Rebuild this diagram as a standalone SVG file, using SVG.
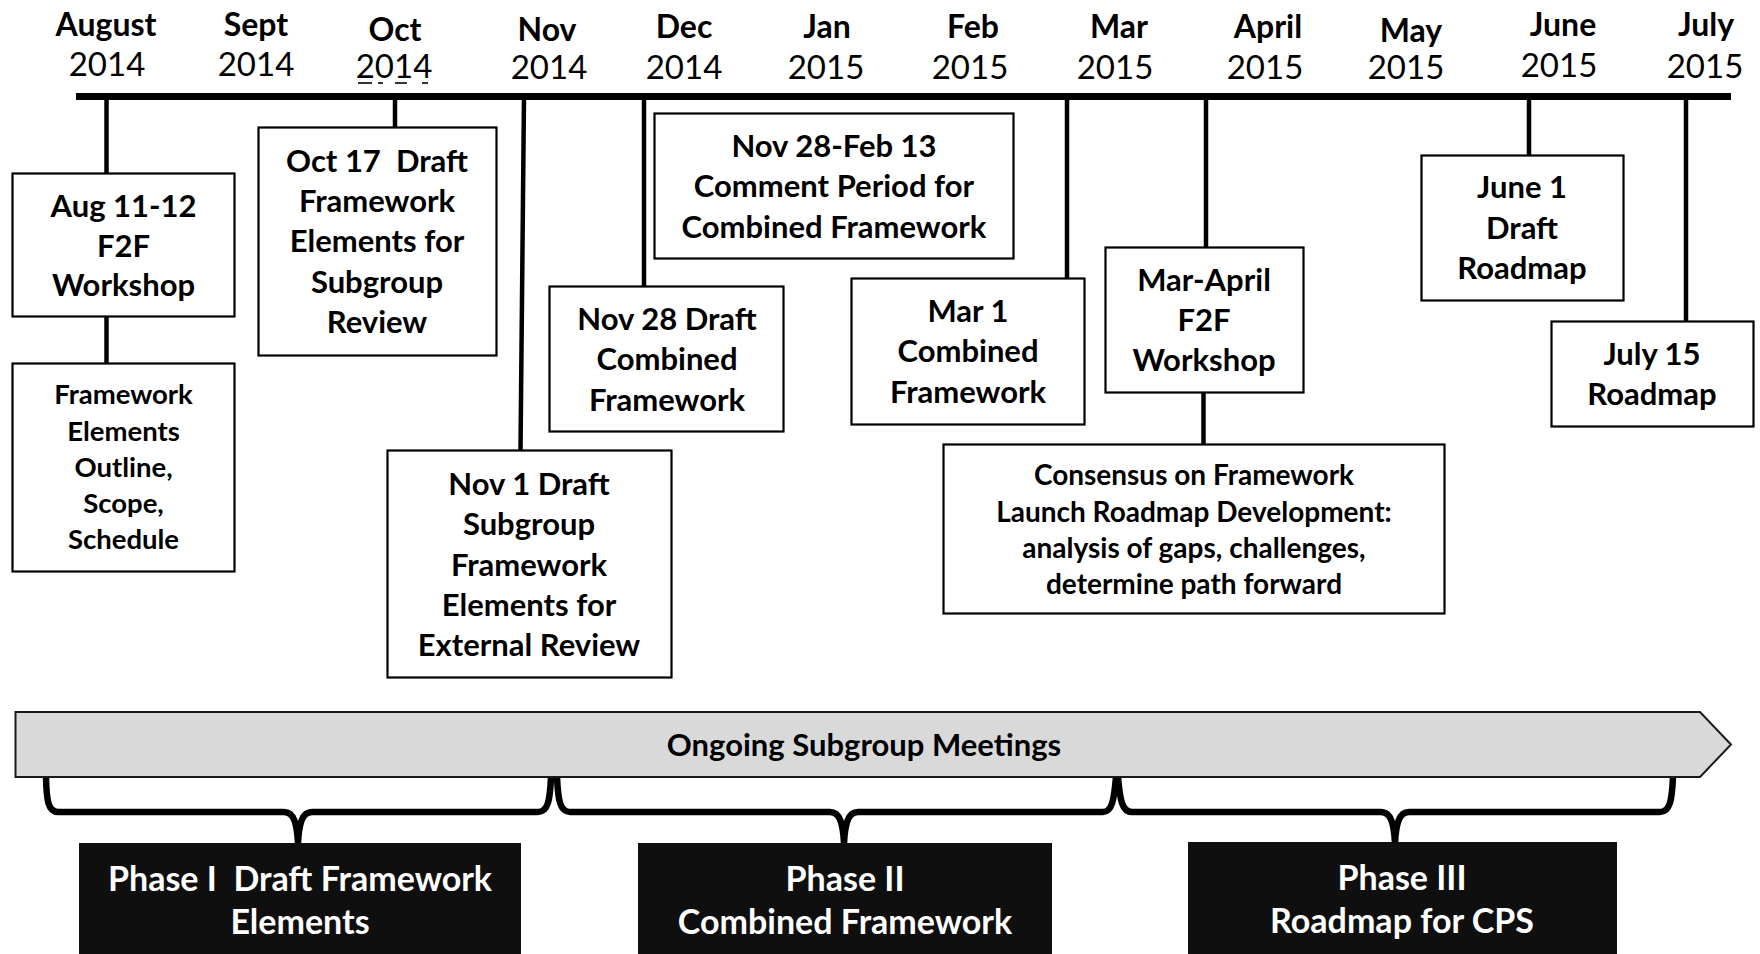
<svg xmlns="http://www.w3.org/2000/svg" width="1760" height="954" viewBox="0 0 1760 954">
  <style>
    .mon { font-family: Lato, "Open Sans", sans-serif; font-weight: 700; font-size: 32px; fill: #000; text-anchor: middle; }
    .yr { font-family: Lato, "Open Sans", sans-serif; font-weight: 400; font-size: 33px; fill: #000; text-anchor: middle; }
    .box { fill: #fff; stroke: #000; stroke-width: 2.2; }
    .t { font-family: Lato, "Open Sans", sans-serif; font-weight: 700; font-size: 31px; fill: #000; text-anchor: middle; }
    .ts { font-family: Lato, "Open Sans", sans-serif; font-weight: 700; font-size: 27.5px; fill: #000; text-anchor: middle; }
    .tc { font-family: Lato, "Open Sans", sans-serif; font-weight: 700; font-size: 28px; fill: #000; text-anchor: middle; }
    .tick { stroke: #000; stroke-width: 4.5; fill: none; }
    .brace { stroke: #000; stroke-width: 6.5; fill: none; stroke-linejoin: round; }
    .phase { fill: #0f0f0f; }
    .pt { font-family: Lato, "Open Sans", sans-serif; font-weight: 700; font-size: 34px; fill: #fff; text-anchor: middle; }
  </style>

  <rect width="1760" height="954" fill="#fff"/>

  <!-- month / year scale -->
  <g id="months">
    <text class="mon" x="106" y="36">August</text><text class="yr" x="107" y="76">2014</text>
    <text class="mon" x="256" y="36">Sept</text><text class="yr" x="256" y="76">2014</text>
    <text class="mon" x="395" y="41">Oct</text><text class="yr" x="394" y="78">2014</text>
    <text class="mon" x="547" y="41">Nov</text><text class="yr" x="549" y="79">2014</text>
    <text class="mon" x="684" y="38">Dec</text><text class="yr" x="684" y="79">2014</text>
    <text class="mon" x="827" y="38">Jan</text><text class="yr" x="826" y="79">2015</text>
    <text class="mon" x="973" y="38">Feb</text><text class="yr" x="970" y="79">2015</text>
    <text class="mon" x="1119" y="38">Mar</text><text class="yr" x="1115" y="79">2015</text>
    <text class="mon" x="1268" y="38">April</text><text class="yr" x="1265" y="79">2015</text>
    <text class="mon" x="1411" y="42">May</text><text class="yr" x="1406" y="79">2015</text>
    <text class="mon" x="1563" y="36">June</text><text class="yr" x="1559" y="77">2015</text>
    <text class="mon" x="1706" y="36">July</text><text class="yr" x="1705" y="78">2015</text>
    <!-- dotted underline marks beneath Oct 2014 -->
    <g stroke="#000" stroke-width="1.6">
      <line x1="358" y1="83" x2="372" y2="83"/>
      <line x1="378" y1="83" x2="383" y2="83"/>
      <line x1="395" y1="83" x2="407" y2="83"/>
      <line x1="422" y1="83" x2="428" y2="83"/>
    </g>
  </g>

  <!-- timeline axis and drop lines -->
  <g id="connectors">
    <line x1="76" y1="96.5" x2="1731" y2="96.5" stroke="#000" stroke-width="7"/>
    <line class="tick" x1="106.5" y1="96" x2="106.5" y2="174"/>
    <line class="tick" x1="106.5" y1="317" x2="106.5" y2="364"/>
    <line class="tick" x1="395" y1="96" x2="395" y2="127"/>
    <line class="tick" x1="524" y1="96" x2="520.5" y2="451"/>
    <line class="tick" x1="644" y1="96" x2="644" y2="287"/>
    <line class="tick" x1="1067" y1="96" x2="1067" y2="279"/>
    <line class="tick" x1="1206" y1="96" x2="1206" y2="248"/>
    <line class="tick" x1="1203.5" y1="393" x2="1203.5" y2="445"/>
    <line class="tick" x1="1529" y1="96" x2="1529" y2="155"/>
    <line class="tick" x1="1686" y1="96" x2="1686" y2="321"/>
    <!-- phase braces -->
    <path class="brace" d="M46,777 C46.5,800 48,812 58,812 L284,812 C294,812 297,824 298,843 C299,824 302,812 312,812 L538,812 C548,812 550,800 551,777"/>
    <path class="brace" d="M557,777 C558,800 560,812 570,812 L830,812 C840,812 843,824 844,843 C845,824 848,812 858,812 L1103,812 C1112,812 1114,800 1116,777"/>
    <path class="brace" d="M1118,777 C1120,800 1122,812 1132,812 L1381,812 C1391,812 1394,824 1395,843 C1396,824 1399,812 1409,812 L1660,812 C1670,812 1672,800 1673,777"/>
  </g>

  <g id="aug-workshop">
    <rect class="box" x="12.5" y="173.5" width="222" height="143"/>
    <text class="t" x="123.5" y="217">Aug 11-12</text>
    <text class="t" x="123.5" y="257">F2F</text>
    <text class="t" x="123.5" y="296">Workshop</text>
  </g>

  <g id="framework-outline">
    <rect class="box" x="12.5" y="363.5" width="222" height="208"/>
    <text class="ts" x="123.5" y="404">Framework</text>
    <text class="ts" x="123.5" y="441">Elements</text>
    <text class="ts" x="123.5" y="477">Outline,</text>
    <text class="ts" x="123.5" y="513">Scope,</text>
    <text class="ts" x="123.5" y="549">Schedule</text>
  </g>

  <g id="oct-17">
    <rect class="box" x="258.5" y="127.5" width="238" height="228"/>
    <text class="t" x="377" y="172" xml:space="preserve">Oct 17  Draft</text>
    <text class="t" x="377" y="212">Framework</text>
    <text class="t" x="377" y="252">Elements for</text>
    <text class="t" x="377" y="293">Subgroup</text>
    <text class="t" x="377" y="333">Review</text>
  </g>

  <g id="nov-1">
    <rect class="box" x="387.5" y="450.5" width="284" height="227"/>
    <text class="t" x="529" y="495">Nov 1 Draft</text>
    <text class="t" x="529" y="535">Subgroup</text>
    <text class="t" x="529" y="576">Framework</text>
    <text class="t" x="529" y="616">Elements for</text>
    <text class="t" x="529" y="656">External Review</text>
  </g>

  <g id="nov-28">
    <rect class="box" x="549.5" y="286.5" width="234" height="145"/>
    <text class="t" x="667" y="330">Nov 28 Draft</text>
    <text class="t" x="667" y="370">Combined</text>
    <text class="t" x="667" y="411">Framework</text>
  </g>

  <g id="comment-period">
    <rect class="box" x="654.5" y="113.5" width="359" height="145"/>
    <text class="t" x="834" y="157">Nov 28-Feb 13</text>
    <text class="t" x="834" y="197">Comment Period for</text>
    <text class="t" x="834" y="238">Combined Framework</text>
  </g>

  <g id="mar-1">
    <rect class="box" x="851.5" y="278.5" width="233" height="146"/>
    <text class="t" x="968" y="322">Mar 1</text>
    <text class="t" x="968" y="362">Combined</text>
    <text class="t" x="968" y="403">Framework</text>
  </g>

  <g id="mar-april">
    <rect class="box" x="1105.5" y="247.5" width="198" height="145"/>
    <text class="t" x="1204" y="291">Mar-April</text>
    <text class="t" x="1204" y="331">F2F</text>
    <text class="t" x="1204" y="371">Workshop</text>
  </g>

  <g id="consensus">
    <rect class="box" x="943.5" y="444.5" width="501" height="169"/>
    <text class="tc" x="1194" y="485">Consensus on Framework</text>
    <text class="tc" x="1194" y="522">Launch Roadmap Development:</text>
    <text class="tc" x="1194" y="558">analysis of gaps, challenges,</text>
    <text class="tc" x="1194" y="594">determine path forward</text>
  </g>

  <g id="june-1">
    <rect class="box" x="1421.5" y="155.5" width="202" height="145"/>
    <text class="t" x="1522" y="198">June 1</text>
    <text class="t" x="1522" y="239">Draft</text>
    <text class="t" x="1522" y="279">Roadmap</text>
  </g>

  <g id="july-15">
    <rect class="box" x="1551.5" y="321.5" width="202" height="105"/>
    <text class="t" x="1652" y="365">July 15</text>
    <text class="t" x="1652" y="405">Roadmap</text>
  </g>

  <g id="subgroup-meetings">
    <polygon points="15.5,712 1700,712 1731,744.5 1700,777 15.5,777" fill="#d9d9d9" stroke="#1a1a1a" stroke-width="2"/>
    <text class="t" x="864" y="756">Ongoing Subgroup Meetings</text>
  </g>

  <g id="phase-1">
    <rect class="phase" x="79" y="843" width="442" height="111"/>
    <text class="pt" x="300" y="891" xml:space="preserve">Phase I  Draft Framework</text>
    <text class="pt" x="300" y="934">Elements</text>
  </g>

  <g id="phase-2">
    <rect class="phase" x="638" y="843" width="414" height="111"/>
    <text class="pt" x="845" y="891">Phase II</text>
    <text class="pt" x="845" y="934">Combined Framework</text>
  </g>

  <g id="phase-3">
    <rect class="phase" x="1188" y="842" width="429" height="112"/>
    <text class="pt" x="1402" y="890">Phase III</text>
    <text class="pt" x="1402" y="933">Roadmap for CPS</text>
  </g>
</svg>
